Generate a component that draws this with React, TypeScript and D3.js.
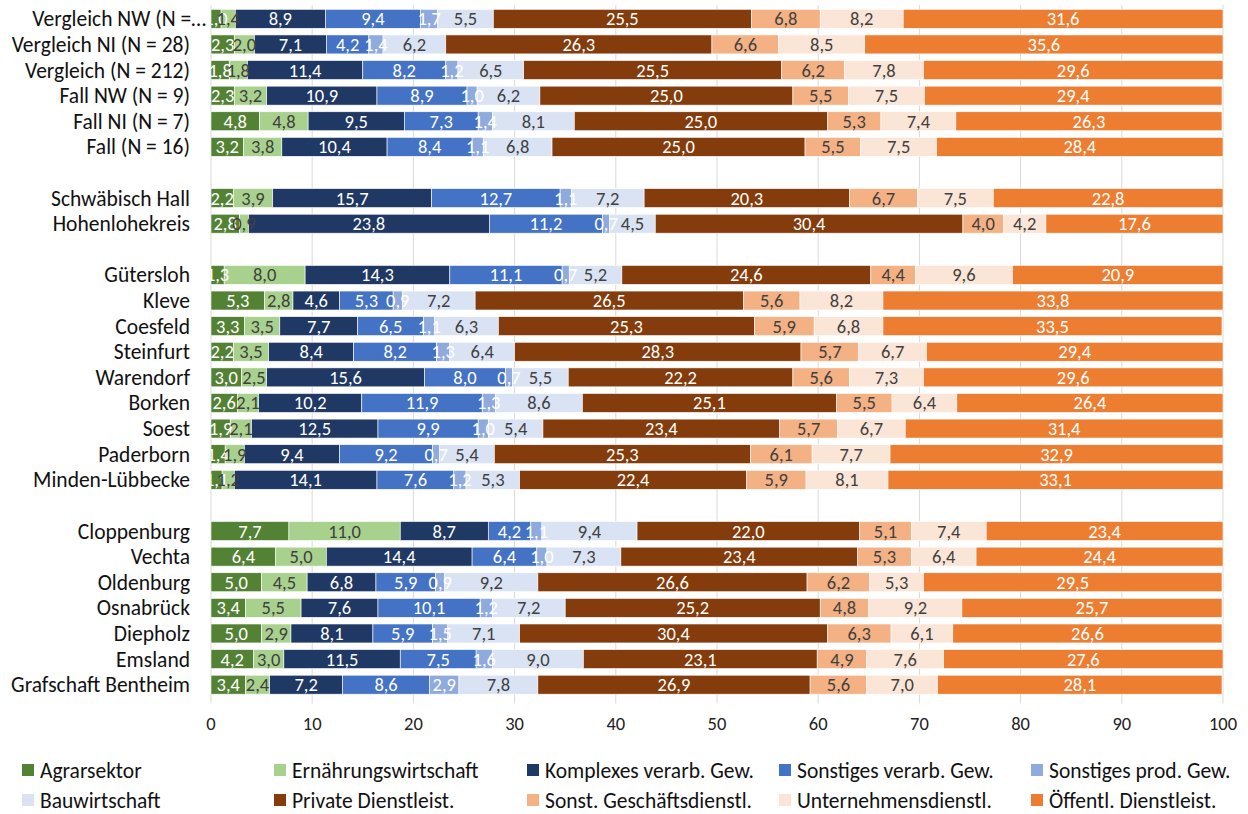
import React from "react";
import * as d3 from "d3";

// Regions in display order; a new group starts at each index in groupStarts.
const categories = [
  "Vergleich NW (N =…",
  "Vergleich NI (N = 28)",
  "Vergleich (N = 212)",
  "Fall NW (N = 9)",
  "Fall NI (N = 7)",
  "Fall (N = 16)",
  "Schwäbisch Hall",
  "Hohenlohekreis",
  "Gütersloh",
  "Kleve",
  "Coesfeld",
  "Steinfurt",
  "Warendorf",
  "Borken",
  "Soest",
  "Paderborn",
  "Minden-Lübbecke",
  "Cloppenburg",
  "Vechta",
  "Oldenburg",
  "Osnabrück",
  "Diepholz",
  "Emsland",
  "Grafschaft Bentheim",
];
const groupStarts = [6, 8, 17];

// Shares (%) per sector, aligned with categories
const agrar = [1.0, 2.3, 1.8, 2.3, 4.8, 3.2, 2.2, 2.8, 1.3, 5.3, 3.3, 2.2, 3.0, 2.6, 1.9, 1.4, 1.1, 7.7, 6.4, 5.0, 3.4, 5.0, 4.2, 3.4];
const ernaehrung = [1.4, 2.0, 1.8, 3.2, 4.8, 3.8, 3.9, 0.9, 8.0, 2.8, 3.5, 3.5, 2.5, 2.1, 2.1, 1.9, 1.2, 11.0, 5.0, 4.5, 5.5, 2.9, 3.0, 2.4];
const komplex = [8.9, 7.1, 11.4, 10.9, 9.5, 10.4, 15.7, 23.8, 14.3, 4.6, 7.7, 8.4, 15.6, 10.2, 12.5, 9.4, 14.1, 8.7, 14.4, 6.8, 7.6, 8.1, 11.5, 7.2];
const sonstVerarb = [9.4, 4.2, 8.2, 8.9, 7.3, 8.4, 12.7, 11.2, 11.1, 5.3, 6.5, 8.2, 8.0, 11.9, 9.9, 9.2, 7.6, 4.2, 6.4, 5.9, 10.1, 5.9, 7.5, 8.6];
const sonstProd = [1.7, 1.4, 1.2, 1.0, 1.4, 1.1, 1.1, 0.7, 0.7, 0.9, 1.1, 1.3, 0.7, 1.3, 1.0, 0.7, 1.2, 1.1, 1.0, 0.9, 1.2, 1.5, 1.6, 2.9];
const bau = [5.5, 6.2, 6.5, 6.2, 8.1, 6.8, 7.2, 4.5, 5.2, 7.2, 6.3, 6.4, 5.5, 8.6, 5.4, 5.4, 5.3, 9.4, 7.3, 9.2, 7.2, 7.1, 9.0, 7.8];
const privat = [25.5, 26.3, 25.5, 25.0, 25.0, 25.0, 20.3, 30.4, 24.6, 26.5, 25.3, 28.3, 22.2, 25.1, 23.4, 25.3, 22.4, 22.0, 23.4, 26.6, 25.2, 30.4, 23.1, 26.9];
const geschaeft = [6.8, 6.6, 6.2, 5.5, 5.3, 5.5, 6.7, 4.0, 4.4, 5.6, 5.9, 5.7, 5.6, 5.5, 5.7, 6.1, 5.9, 5.1, 5.3, 6.2, 4.8, 6.3, 4.9, 5.6];
const unternehmen = [8.2, 8.5, 7.8, 7.5, 7.4, 7.5, 7.5, 4.2, 9.6, 8.2, 6.8, 6.7, 7.3, 6.4, 6.7, 7.7, 8.1, 7.4, 6.4, 5.3, 9.2, 6.1, 7.6, 7.0];
const oeffentl = [31.6, 35.6, 29.6, 29.4, 26.3, 28.4, 22.8, 17.6, 20.9, 33.8, 33.5, 29.4, 29.6, 26.4, 31.4, 32.9, 33.1, 23.4, 24.4, 29.5, 25.7, 26.6, 27.6, 28.1];

const seriesNames = [
  "Agrarsektor",
  "Ernährungswirtschaft",
  "Komplexes verarb. Gew.",
  "Sonstiges verarb. Gew.",
  "Sonstiges prod. Gew.",
  "Bauwirtschaft",
  "Private Dienstleist.",
  "Sonst. Geschäftsdienstl.",
  "Unternehmensdienstl.",
  "Öffentl. Dienstleist.",
];
const seriesValues = [agrar, ernaehrung, komplex, sonstVerarb, sonstProd, bau, privat, geschaeft, unternehmen, oeffentl];
const seriesColors = ["#548235", "#A9D18E", "#203864", "#4472C4", "#8FAADC", "#DAE3F3", "#843C0C", "#F4B183", "#FBE5D6", "#ED7D31"];
const labelColors = ["#FFFFFF", "#404040", "#FFFFFF", "#FFFFFF", "#FFFFFF", "#404040", "#FFFFFF", "#404040", "#404040", "#FFFFFF"];
const xTicks = [0, 10, 20, 30, 40, 50, 60, 70, 80, 90, 100];

const W = 1248;
const H = 814;
const FONT = "Carlito, Calibri, 'Open Sans', sans-serif";

const plot = { left: 211, right: 1223, top: 6, bottom: 697.5 };

// Row keys including blank spacer rows between groups
const rowKeys: string[] = [];
categories.forEach((c, i) => {
  if (groupStarts.includes(i)) rowKeys.push(`__gap${i}`);
  rowKeys.push(c);
});

const fmt = (v: number) => d3.format(".1f")(v).replace(".", ",");

export default function App() {
  const x = d3.scaleLinear().domain([0, 100]).range([plot.left, plot.right]);
  const y = d3.scaleBand<string>().domain(rowKeys).range([plot.top, plot.bottom]).paddingInner(0.26).paddingOuter(0.13);

  const table = categories.map((c, i) => {
    const row: Record<string, number | string> = { cat: c };
    seriesNames.forEach((s, k) => (row[s] = seriesValues[k][i]));
    return row;
  });
  const stacked = d3.stack<Record<string, number | string>>().keys(seriesNames)(table as any);

  const legendCols = [22, 274, 527, 779, 1031];
  const legendRows = [770, 800];

  return (
    <svg width={W} height={H} style={{ position: "absolute", left: 0, top: 0, background: "#fff" }} fontFamily={FONT}>
      <defs>
        <clipPath id="plotClip">
          <rect x={plot.left} y={0} width={plot.right - plot.left + 20} height={plot.bottom + 10} />
        </clipPath>
      </defs>
      {/* vertical gridlines */}
      <g>
        {xTicks.map((t) => (
          <line key={t} x1={x(t)} x2={x(t)} y1={plot.top - 1} y2={plot.bottom + 6} stroke="#D9D9D9" strokeWidth={1} />
        ))}
      </g>
      {/* stacked bars */}
      <g>
        {stacked.map((layer, k) => (
          <g key={layer.key} fill={seriesColors[k]}>
            {layer.map((d, i) => {
              const x0 = x(Math.min(d[0], 100));
              const x1 = x(Math.min(d[1], 100));
              return (
                <rect
                  key={i}
                  x={x0}
                  y={y(categories[i])}
                  width={Math.max(0, x1 - x0)}
                  height={y.bandwidth()}
                  stroke="#FFFFFF"
                  strokeWidth={0.6}
                />
              );
            })}
          </g>
        ))}
      </g>
      {/* value labels */}
      <g clipPath="url(#plotClip)" fontSize={18.5} textAnchor="middle">
        {stacked.map((layer, k) => (
          <g key={layer.key} fill={labelColors[k]}>
            {layer.map((d, i) => {
              const cx = (x(Math.min(d[0], 100)) + x(Math.min(d[1], 100))) / 2;
              const cy = (y(categories[i]) as number) + y.bandwidth() / 2;
              return (
                <text key={i} x={cx} y={cy} dy="0.35em">
                  {fmt(seriesValues[k][i])}
                </text>
              );
            })}
          </g>
        ))}
      </g>
      {/* category labels (a truncated label runs closer to the axis) */}
      <g fontSize={21.5} textAnchor="end" fill="#111">
        {categories.map((c) => (
          <text key={c} x={c.endsWith("…") ? 206 : 190} y={(y(c) as number) + y.bandwidth() / 2} dy="0.35em">
            {c}
          </text>
        ))}
      </g>
      {/* x axis tick labels */}
      <g fontSize={18.5} textAnchor="middle" fill="#222">
        {xTicks.map((t) => (
          <text key={t} x={x(t)} y={723.5} dy="0.35em">
            {t}
          </text>
        ))}
      </g>
      {/* legend */}
      <g fontSize={21.5} fill="#111">
        {seriesNames.map((s, k) => {
          const lx = legendCols[k % 5];
          const ly = legendRows[Math.floor(k / 5)];
          return (
            <g key={s} transform={`translate(${lx},${ly})`}>
              <rect x={0} y={-6} width={12} height={12} fill={seriesColors[k]} />
              <text x={18} y={0} dy="0.35em">
                {s}
              </text>
            </g>
          );
        })}
      </g>
    </svg>
  );
}
